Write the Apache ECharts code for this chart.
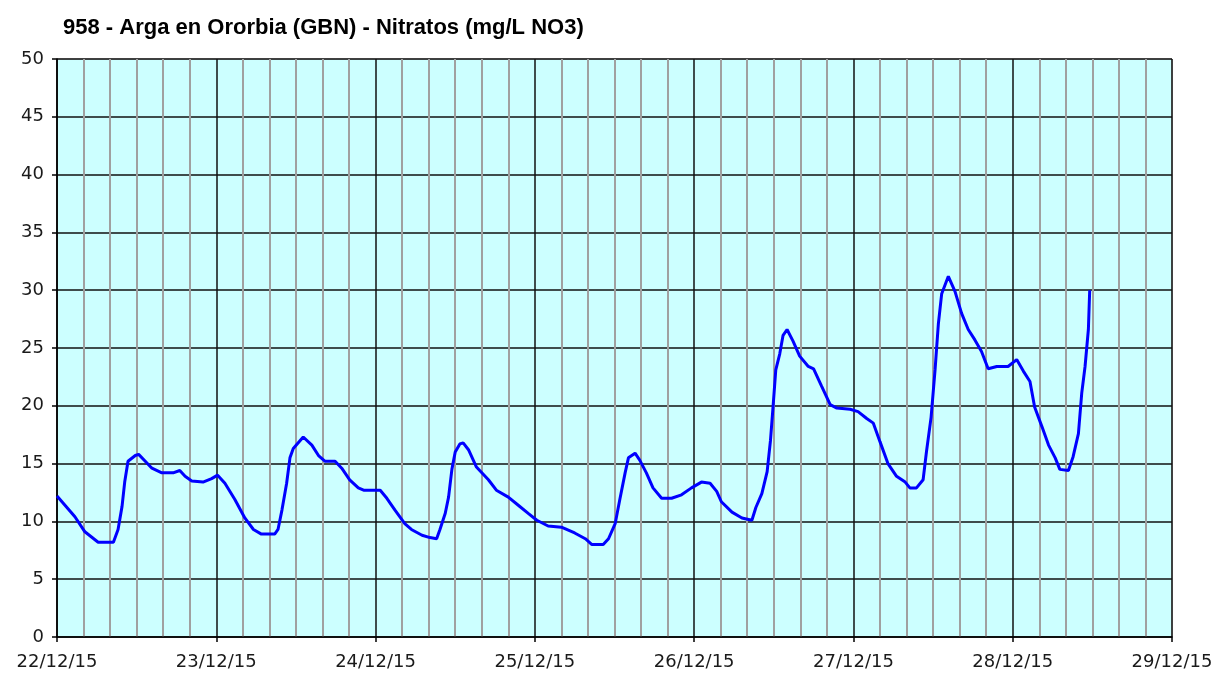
<!DOCTYPE html>
<html>
<head>
<meta charset="utf-8">
<title>958 - Arga en Ororbia (GBN) - Nitratos</title>
<script src="https://cdn.jsdelivr.net/npm/echarts@6/dist/echarts.min.js"></script>
<style>
  html, body { margin: 0; padding: 0; background: #fff; }
  #chart { width: 1219px; height: 673px; }
</style>
</head>
<body>
<div id="chart"></div>
<script>
// hours since 22/12/15 00:00
const hours = [0, 2.7, 4.2, 6.2, 8.5, 9.2, 9.8, 10.2, 10.7, 11.8, 12.3, 13.3, 14.3, 15.8, 17.5, 18.5, 19.3, 20.3, 22.0, 23.3,
  24.2, 25.3, 26.8, 28.3, 29.6, 30.8, 32.8, 33.3, 33.9, 34.6, 35.1, 35.6, 37.1, 38.4, 39.4, 40.4, 41.9, 42.9, 44.1, 45.4,
  46.2, 48.7, 49.7, 50.9, 52.4, 53.4, 55.0, 56.2, 57.2, 57.7, 58.5, 59.0, 59.5, 60.0, 60.7, 61.2, 62.0, 63.2, 65.0, 66.2,
  68.0, 69.5, 71.0, 72.3, 74.0, 76.0, 78.0, 79.6, 80.6, 82.3, 83.1, 84.1, 84.8, 85.6, 86.1, 87.1, 87.8, 88.8, 89.8, 91.1,
  92.6, 94.1, 95.6, 97.1, 98.4, 99.4, 100.1, 101.7, 103.2, 104.7, 105.3, 106.2, 107.0, 107.5, 107.9, 108.3, 108.9, 109.4, 110.0, 110.9,
  111.9, 113.2, 114.0, 115.2, 116.5, 117.5, 119.5, 120.7, 122.0, 123.0, 124.0, 125.2, 126.5, 127.8, 128.5, 129.5, 130.5, 131.0, 131.7, 132.3,
  132.8, 133.3, 134.3, 135.3, 136.3, 137.3, 138.3, 139.3, 140.3, 141.6, 143.3, 144.6, 145.6, 146.6, 147.3, 148.4, 149.4, 150.4, 151.1, 152.4,
  153.1, 153.9, 154.4, 154.9, 155.4, 155.6];
// nitratos mg/L NO3
const nitrate = [12.2, 10.4, 9.1, 8.2, 8.2, 9.3, 11.3, 13.4, 15.2, 15.7, 15.8, 15.2, 14.6, 14.2, 14.2, 14.4, 13.9, 13.5, 13.4, 13.7,
  14.0, 13.3, 11.9, 10.3, 9.3, 8.9, 8.9, 9.3, 11.0, 13.3, 15.5, 16.3, 17.3, 16.6, 15.7, 15.2, 15.2, 14.6, 13.6, 12.9,
  12.7, 12.7, 12.0, 11.0, 9.8, 9.3, 8.8, 8.6, 8.5, 9.3, 10.7, 12.1, 14.5, 16.0, 16.7, 16.8, 16.2, 14.7, 13.6, 12.7,
  12.1, 11.4, 10.7, 10.1, 9.6, 9.5, 9.0, 8.5, 8.0, 8.0, 8.5, 9.8, 11.9, 14.2, 15.5, 15.9, 15.3, 14.2, 12.9, 12.0,
  12.0, 12.3, 12.9, 13.4, 13.3, 12.6, 11.7, 10.8, 10.3, 10.1, 11.2, 12.4, 14.3, 17.0, 20.0, 23.1, 24.5, 26.1, 26.6, 25.6,
  24.3, 23.4, 23.2, 21.7, 20.1, 19.8, 19.7, 19.5, 18.9, 18.5, 16.9, 15.0, 13.9, 13.4, 12.9, 12.9, 13.6, 16.0, 19.0, 23.1,
  27.1, 29.7, 31.2, 29.9, 28.0, 26.6, 25.7, 24.7, 23.2, 23.4, 23.4, 24.0, 23.0, 22.1, 19.9, 18.2, 16.6, 15.5, 14.5, 14.4,
  15.6, 17.6, 21.1, 23.4, 26.6, 30.0];
const dayLabels = ['22/12/15', '23/12/15', '24/12/15', '25/12/15', '26/12/15', '27/12/15', '28/12/15', '29/12/15'];

let myChart = echarts.init(document.getElementById('chart'));
let seriesData = hours.map((h, i) => [h, nitrate[i]]);

let options = {
  backgroundColor: '#ffffff',
  animation: false,
  title: {
    text: '958 - Arga en Ororbia (GBN) - Nitratos (mg/L NO3)',
    left: 58,
    top: 12,
    textStyle: {
      fontFamily: 'Liberation Sans, Arial',
      fontWeight: 'bold',
      fontSize: 22,
      color: '#000'
    }
  },
  grid: {
    left: 57,
    right: 47,
    top: 59,
    bottom: 36,
    show: true,
    backgroundColor: '#ccffff',
    borderColor: '#a0a0a0',
    borderWidth: 1
  },
  xAxis: {
    type: 'value',
    min: 0,
    max: 168,
    interval: 24,
    axisLine: { lineStyle: { color: '#000', width: 1.5 } },
    axisTick: { show: true, length: 5, lineStyle: { color: '#000', width: 1.5 } },
    axisLabel: {
      color: '#1a1a1a',
      fontFamily: 'DejaVu Sans, Verdana',
      fontSize: 18,
      margin: 16,
      formatter: function (value) {
        return dayLabels[Math.round(value / 24)];
      }
    },
    splitLine: { show: true, lineStyle: { color: '#111', width: 1.5 } },
    minorTick: { show: false, splitNumber: 6 },
    minorSplitLine: { show: true, lineStyle: { color: '#a0a0a0', width: 2 } }
  },
  yAxis: {
    type: 'value',
    min: 0,
    max: 50,
    interval: 5,
    axisLine: { show: true, lineStyle: { color: '#000', width: 1.5 } },
    axisTick: { show: true, length: 5, lineStyle: { color: '#000', width: 1.5 } },
    axisLabel: {
      color: '#1a1a1a',
      fontFamily: 'DejaVu Sans, Verdana',
      fontSize: 18,
      margin: 13
    },
    splitLine: { show: true, lineStyle: { color: '#111', width: 1.5 } }
  },
  series: [
    {
      name: 'Nitratos',
      type: 'line',
      data: seriesData,
      showSymbol: false,
      smooth: false,
      z: 5,
      lineStyle: { color: '#0000ff', width: 3 }
    }
  ]
};
myChart.setOption(options);
</script>
</body>
</html>
